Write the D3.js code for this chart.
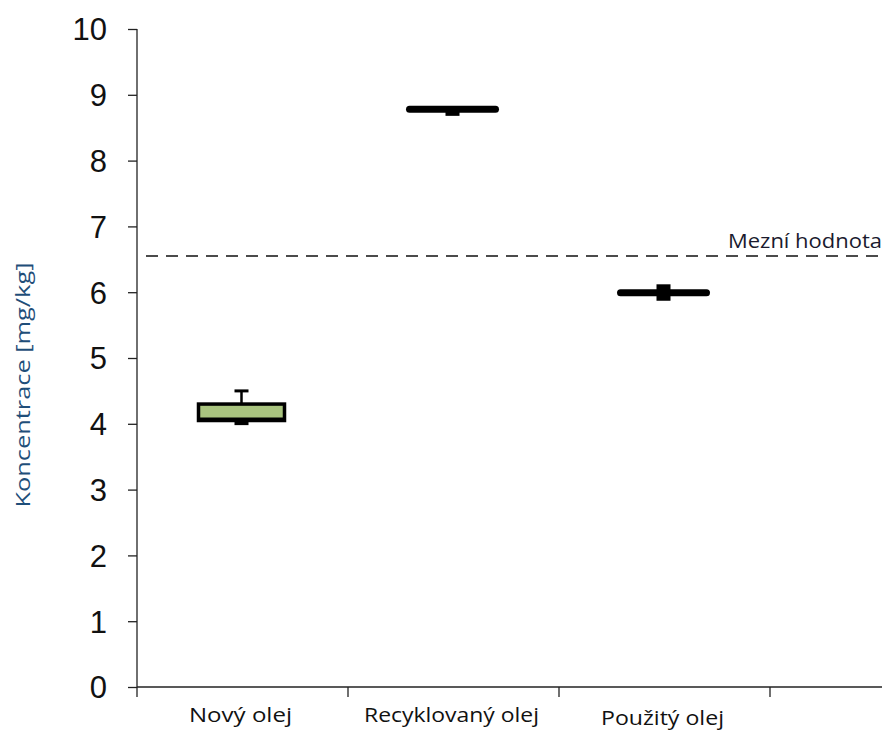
<!DOCTYPE html>
<html>
<head>
<meta charset="utf-8">
<script src="https://cdn.jsdelivr.net/npm/d3@7"></script>
<style>
  body { margin: 0; background: #fff; }
  svg { display: block; }
</style>
</head>
<body>
<svg id="chart" width="887" height="731"></svg>
<script>
// data
var categories = ["Nový olej", "Recyklovaný olej", "Použitý olej"];
var whiskerMin = [3.98, 8.68, 5.87];
var q1 = [4.05, 8.78, 5.99];
var median = [4.05, 8.78, 5.99];
var q3 = [4.3, 8.78, 5.99];
var whiskerMax = [4.5, 8.78, 6.12];
var yTicks = [0, 1, 2, 3, 4, 5, 6, 7, 8, 9, 10];
var limitValue = 6.55;
var limitLabel = "Mezní hodnota";
var yLabel = "Koncentrace [mg/kg]";

var svg = d3.select("#chart");
var font = "Open Sans, Noto Sans, sans-serif";

var x0 = 137, bandW = 211;
var x = d3.scaleBand()
  .domain(categories)
  .range([x0, x0 + bandW * categories.length]);
var y = d3.scaleLinear().domain([0, 10]).range([687, 29]);

var axisEnd = 882;

// y axis
var yAxis = svg.append("g")
  .attr("transform", "translate(" + x0 + ",0)")
  .call(d3.axisLeft(y).tickValues(yTicks).tickSize(9).tickPadding(21).tickFormat(d3.format("d")));
yAxis.select(".domain").attr("stroke", "#222").attr("stroke-width", 1.3)
  .attr("d", "M0," + y(10) + "V" + y(0));
yAxis.selectAll(".tick line").attr("stroke", "#222").attr("stroke-width", 1.3);
yAxis.selectAll(".tick text")
  .attr("font-family", "Liberation Sans, Arial, sans-serif")
  .attr("font-size", 31).attr("fill", "#111").attr("dy", "0.35em");

// x axis
var xTickPos = d3.range(categories.length + 1).map(function(i) { return x0 + i * bandW; });
var xAxis = svg.append("g");
xAxis.append("line")
  .attr("x1", x0).attr("x2", axisEnd).attr("y1", y(0)).attr("y2", y(0))
  .attr("stroke", "#222").attr("stroke-width", 1.3);
xAxis.selectAll(".xt").data(xTickPos).enter().append("line")
  .attr("x1", function(d) { return d; }).attr("x2", function(d) { return d; })
  .attr("y1", y(0)).attr("y2", y(0) + 10)
  .attr("stroke", "#222").attr("stroke-width", 1.3);
var labelLen = [103, 175, 123];
var labelY = [722, 722, 725];
xAxis.selectAll(".xl").data(categories).enter().append("text")
  .attr("x", function(d) { return x(d) + x.bandwidth() / 2 - 2; })
  .attr("y", function(d, i) { return labelY[i]; })
  .attr("text-anchor", "middle")
  .attr("font-family", font)
  .attr("font-size", 19.5).attr("fill", "#111")
  .attr("textLength", function(d, i) { return labelLen[i]; })
  .attr("lengthAdjust", "spacingAndGlyphs")
  .text(function(d) { return d; });

// y label
svg.append("text")
  .attr("transform", "translate(30,385) rotate(-90)")
  .attr("text-anchor", "middle")
  .attr("font-family", font)
  .attr("font-size", 20.5).attr("fill", "#1f4e79")
  .attr("textLength", 245).attr("lengthAdjust", "spacingAndGlyphs")
  .text(yLabel);

// limit line
svg.append("line")
  .attr("x1", 146).attr("x2", axisEnd).attr("y1", y(limitValue)).attr("y2", y(limitValue))
  .attr("stroke", "#111").attr("stroke-width", 1.3).attr("stroke-dasharray", "12,8");
svg.append("text")
  .attr("x", axisEnd).attr("y", y(limitValue) - 8)
  .attr("text-anchor", "end")
  .attr("font-family", font)
  .attr("font-size", 20).attr("fill", "#1a1a2e")
  .attr("textLength", 154).attr("lengthAdjust", "spacingAndGlyphs")
  .text(limitLabel);

// boxes
var boxW = 86, capW = 14;
var boxes = svg.append("g").selectAll("g").data(categories).enter().append("g");
boxes.each(function(c, i) {
  var g = d3.select(this);
  var cx = x(c) + x.bandwidth() / 2 - 1;
  if (whiskerMax[i] > q3[i] && q3[i] > q1[i]) {
    g.append("line").attr("x1", cx).attr("x2", cx)
      .attr("y1", y(q3[i])).attr("y2", y(whiskerMax[i]))
      .attr("stroke", "#000").attr("stroke-width", 2.5);
    g.append("line").attr("x1", cx - capW / 2).attr("x2", cx + capW / 2)
      .attr("y1", y(whiskerMax[i])).attr("y2", y(whiskerMax[i]))
      .attr("stroke", "#000").attr("stroke-width", 3);
  }
  if (whiskerMin[i] < q1[i]) {
    g.append("rect").attr("x", cx - capW / 2).attr("width", capW)
      .attr("y", y(q1[i])).attr("height", y(whiskerMin[i]) - y(q1[i]))
      .attr("fill", "#000");
  }
  if (whiskerMax[i] > q3[i] && q3[i] === q1[i]) {
    g.append("rect").attr("x", cx - capW / 2).attr("width", capW)
      .attr("y", y(whiskerMax[i])).attr("height", y(q3[i]) - y(whiskerMax[i]))
      .attr("fill", "#000");
  }
  if (q3[i] > q1[i]) {
    g.append("rect")
      .attr("x", cx - boxW / 2).attr("width", boxW)
      .attr("y", y(q3[i])).attr("height", y(q1[i]) - y(q3[i]))
      .attr("fill", "#a9c47f").attr("stroke", "#000").attr("stroke-width", 3.5);
    g.append("line").attr("x1", cx - boxW / 2).attr("x2", cx + boxW / 2)
      .attr("y1", y(median[i]) - 1).attr("y2", y(median[i]) - 1)
      .attr("stroke", "#000").attr("stroke-width", 4);
  } else {
    g.append("line").attr("x1", cx - boxW / 2).attr("x2", cx + boxW / 2)
      .attr("y1", y(median[i])).attr("y2", y(median[i]))
      .attr("stroke", "#000").attr("stroke-width", 7).attr("stroke-linecap", "round");
  }
});
</script>
</body>
</html>
